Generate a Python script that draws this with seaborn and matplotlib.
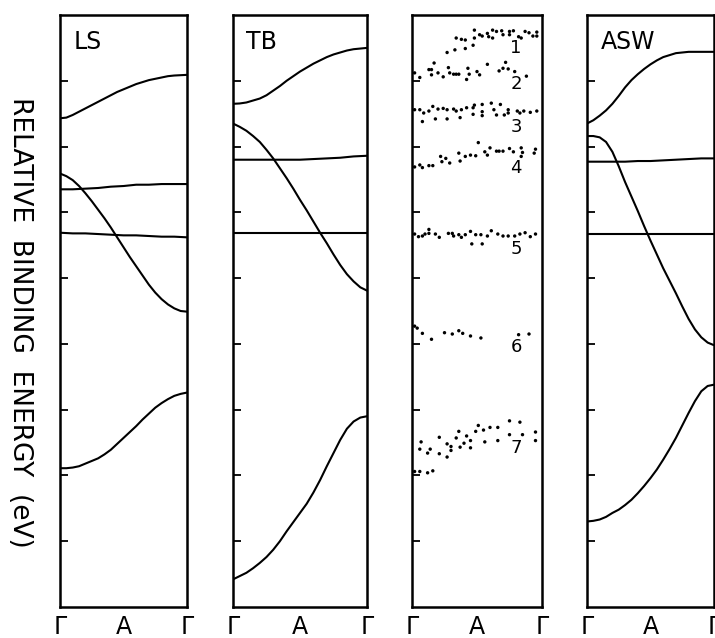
import matplotlib.pyplot as plt
import pandas as pd
import seaborn as sns

# k along Gamma - A - Gamma, energies in eV (binding energy, downwards)
k_fine = [0.0, 0.05, 0.1, 0.15, 0.2, 0.25, 0.3, 0.35, 0.4, 0.45, 0.5,
          0.55, 0.6, 0.65, 0.7, 0.75, 0.8, 0.85, 0.9, 0.95, 1.0]
k_flat = [0.0, 0.1, 0.2, 0.3, 0.4, 0.5, 0.6, 0.7, 0.8, 0.9, 1.0]

ls_1 = [1.57, 1.56, 1.52, 1.47, 1.42, 1.37, 1.32, 1.27, 1.22, 1.17, 1.13,
        1.09, 1.05, 1.02, 0.99, 0.97, 0.95, 0.93, 0.92, 0.915, 0.91]
ls_2 = [2.41, 2.45, 2.51, 2.60, 2.71, 2.83, 2.96, 3.09, 3.23, 3.38, 3.53,
        3.68, 3.82, 3.96, 4.10, 4.22, 4.32, 4.40, 4.46, 4.50, 4.51]
ls_3 = [2.65, 2.65, 2.64, 2.63, 2.61, 2.60, 2.58, 2.58, 2.57, 2.57, 2.57]
ls_4 = [3.31, 3.32, 3.32, 3.33, 3.34, 3.35, 3.35, 3.36, 3.37, 3.37, 3.38]
ls_5 = [6.89, 6.89, 6.88, 6.86, 6.82, 6.78, 6.74, 6.68, 6.61, 6.52, 6.43,
        6.34, 6.25, 6.15, 6.06, 5.97, 5.90, 5.84, 5.79, 5.76, 5.74]

tb_1 = [1.35, 1.345, 1.33, 1.30, 1.27, 1.22, 1.15, 1.08, 1.00, 0.93, 0.86,
        0.80, 0.74, 0.69, 0.64, 0.60, 0.57, 0.54, 0.52, 0.51, 0.50]
tb_2 = [1.65, 1.70, 1.76, 1.84, 1.93, 2.05, 2.18, 2.33, 2.48, 2.64, 2.81,
        2.97, 3.14, 3.31, 3.47, 3.64, 3.80, 3.94, 4.05, 4.14, 4.19]
tb_3 = [2.20, 2.20, 2.20, 2.20, 2.20, 2.20, 2.19, 2.18, 2.17, 2.15, 2.14]
tb_4 = [3.32, 3.32, 3.32, 3.32, 3.32, 3.32, 3.32, 3.32, 3.32, 3.32, 3.32]
tb_5 = [8.58, 8.53, 8.48, 8.41, 8.33, 8.24, 8.13, 8.00, 7.85, 7.71, 7.57,
        7.43, 7.26, 7.07, 6.86, 6.66, 6.46, 6.29, 6.18, 6.12, 6.10]

asw_1 = [1.65, 1.60, 1.53, 1.45, 1.35, 1.23, 1.10, 0.99, 0.90, 0.82, 0.75,
         0.69, 0.64, 0.61, 0.58, 0.57, 0.56, 0.56, 0.56, 0.56, 0.56]
asw_2 = [1.84, 1.84, 1.86, 1.93, 2.08, 2.30, 2.54, 2.76, 2.98, 3.21, 3.43,
         3.64, 3.85, 4.04, 4.23, 4.43, 4.62, 4.78, 4.90, 4.98, 5.02]
asw_3 = [2.23, 2.23, 2.23, 2.23, 2.22, 2.22, 2.21, 2.20, 2.19, 2.18, 2.18]
asw_4 = [3.33, 3.33, 3.33, 3.33, 3.33, 3.33, 3.33, 3.33, 3.33, 3.33, 3.33]
asw_5 = [7.70, 7.69, 7.67, 7.63, 7.57, 7.52, 7.45, 7.37, 7.27, 7.16, 7.04,
         6.91, 6.76, 6.60, 6.43, 6.24, 6.05, 5.87, 5.72, 5.64, 5.62]

# measured peaks (k, E)
peak_1 = [(0.48, 0.23), (0.62, 0.23), (0.65, 0.25), (0.69, 0.24), (0.70, 0.30), (0.75, 0.25),
          (0.78, 0.24), (0.75, 0.30), (0.87, 0.25), (0.90, 0.27), (0.96, 0.26), (0.96, 0.32),
          (0.93, 0.32), (0.82, 0.33), (0.84, 0.35), (0.58, 0.28), (0.54, 0.32), (0.59, 0.33),
          (0.62, 0.35), (0.48, 0.35), (0.52, 0.30), (0.47, 0.46), (0.41, 0.51), (0.38, 0.37),
          (0.41, 0.38), (0.34, 0.35), (0.33, 0.53), (0.27, 0.57)]
peak_2 = [(0.02, 0.88), (0.06, 0.95), (0.13, 0.83), (0.15, 0.83), (0.17, 0.73), (0.15, 0.91),
          (0.20, 0.88), (0.24, 0.94), (0.28, 0.80), (0.29, 0.88), (0.32, 0.90), (0.34, 0.90),
          (0.36, 0.90), (0.43, 0.81), (0.44, 0.90), (0.42, 0.98), (0.50, 0.86), (0.52, 0.91),
          (0.58, 0.75), (0.67, 0.85), (0.70, 0.81), (0.72, 0.72), (0.74, 0.82), (0.79, 0.86),
          (0.88, 0.93)]
peak_3 = [(0.02, 1.44), (0.06, 1.44), (0.09, 1.49), (0.08, 1.62), (0.13, 1.46), (0.16, 1.39),
          (0.20, 1.43), (0.18, 1.58), (0.24, 1.42), (0.27, 1.44), (0.27, 1.58), (0.32, 1.43),
          (0.34, 1.46), (0.38, 1.44), (0.37, 1.56), (0.42, 1.41), (0.47, 1.41), (0.47, 1.51),
          (0.48, 1.37), (0.54, 1.36), (0.54, 1.47), (0.54, 1.53), (0.61, 1.34), (0.63, 1.44),
          (0.65, 1.52), (0.68, 1.36), (0.71, 1.52), (0.74, 1.44), (0.74, 1.49), (0.81, 1.46),
          (0.83, 1.49), (0.86, 1.46), (0.91, 1.48), (0.96, 1.46)]
peak_4 = [(0.02, 2.31), (0.06, 2.28), (0.08, 2.32), (0.13, 2.29), (0.16, 2.29), (0.22, 2.15),
          (0.23, 2.23), (0.26, 2.18), (0.29, 2.25), (0.36, 2.10), (0.37, 2.22), (0.41, 2.15),
          (0.45, 2.13), (0.49, 2.14), (0.51, 1.94), (0.56, 2.08), (0.58, 2.13), (0.60, 2.02),
          (0.65, 2.07), (0.67, 2.07), (0.70, 2.07), (0.75, 2.03), (0.78, 2.08), (0.84, 2.02),
          (0.85, 2.09), (0.84, 2.15), (0.94, 2.10), (0.95, 2.04)]
peak_5 = [(0.02, 3.33), (0.05, 3.37), (0.08, 3.36), (0.10, 3.33), (0.13, 3.26), (0.13, 3.32),
          (0.18, 3.33), (0.21, 3.38), (0.28, 3.32), (0.31, 3.32), (0.32, 3.36), (0.36, 3.34),
          (0.38, 3.38), (0.41, 3.34), (0.45, 3.29), (0.46, 3.48), (0.49, 3.34), (0.53, 3.34),
          (0.54, 3.48), (0.58, 3.36), (0.61, 3.28), (0.66, 3.33), (0.70, 3.36), (0.74, 3.36),
          (0.79, 3.36), (0.83, 3.33), (0.87, 3.31), (0.91, 3.37), (0.95, 3.33)]
peak_6 = [(0.02, 4.73), (0.04, 4.76), (0.08, 4.84), (0.15, 4.93), (0.25, 4.83), (0.31, 4.85),
          (0.36, 4.80), (0.39, 4.84), (0.45, 4.88), (0.53, 4.91), (0.82, 4.86), (0.90, 4.85)]
peak_7 = [(0.02, 6.94), (0.06, 6.94), (0.12, 6.96), (0.16, 6.93), (0.07, 6.49), (0.06, 6.60),
          (0.12, 6.66), (0.14, 6.60), (0.21, 6.42), (0.21, 6.67), (0.27, 6.52), (0.27, 6.72),
          (0.30, 6.56), (0.30, 6.62), (0.34, 6.43), (0.36, 6.33), (0.37, 6.57), (0.40, 6.51),
          (0.42, 6.40), (0.45, 6.47), (0.45, 6.58), (0.49, 6.33), (0.51, 6.24), (0.55, 6.31),
          (0.56, 6.49), (0.60, 6.27), (0.66, 6.27), (0.66, 6.47), (0.75, 6.17), (0.75, 6.38),
          (0.83, 6.19), (0.85, 6.38), (0.95, 6.34), (0.95, 6.47)]

peak_names = ['1', '2', '3', '4', '5', '6', '7']
peak_label_E = [0.50, 1.05, 1.70, 2.33, 3.56, 5.05, 6.58]
k_labels = ['Γ', 'A', 'Γ']

bands = {'LS': [ls_1, ls_2, ls_3, ls_4, ls_5],
         'TB': [tb_1, tb_2, tb_3, tb_4, tb_5],
         'ASW': [asw_1, asw_2, asw_3, asw_4, asw_5]}
peaks = [peak_1, peak_2, peak_3, peak_4, peak_5, peak_6, peak_7]

rows = []
for name, bl in bands.items():
    for i, b in enumerate(bl):
        kk = k_fine if len(b) == len(k_fine) else k_flat
        for k, e in zip(kk, b):
            rows.append({'model': name, 'band': i, 'k': k, 'E': e})
df = pd.DataFrame(rows)

prow = []
for i, p in enumerate(peaks):
    for k, e in p:
        prow.append({'peak': peak_names[i], 'k': k, 'E': e})
exp = pd.DataFrame(prow)

sns.set_style('ticks', {'axes.edgecolor': 'black', 'xtick.color': 'black',
                        'ytick.color': 'black', 'text.color': 'black'})
plt.rcParams['font.family'] = ['DejaVu Sans']

W, H = 715, 638
fig = plt.figure(figsize=(W / 100, H / 100), dpi=100)
lefts = [60, 233, 412, 587]
widths = [127, 134, 130, 127]
order = ['LS', 'TB', 'exp', 'ASW']
title_x = [0.11, 0.10, 0, 0.11]

for j, (l, w) in enumerate(zip(lefts, widths)):
    ax = fig.add_axes([l / W, 31 / H, w / W, 592 / H])
    name = order[j]
    if name == 'exp':
        sns.scatterplot(data=exp, x='k', y='E', ax=ax, color='black', s=6,
                        edgecolor='none', legend=False)
        for lab, ey in zip(peak_names, peak_label_E):
            ax.text(0.80, ey, lab, fontsize=13, ha='center', va='center')
    else:
        sns.lineplot(data=df[df['model'] == name], x='k', y='E', units='band',
                     estimator=None, ax=ax, color='black', lw=1.5)
        ax.text(title_x[j], 0.975, name, transform=ax.transAxes, fontsize=17,
                ha='left', va='top')
    ax.set_xlim(0, 1)
    ax.set_ylim(9, 0)
    ax.set_yticks(range(1, 9))
    ax.set_yticklabels([])
    ax.set_xticks([0, 0.5, 1])
    ax.set_xticklabels(k_labels, fontsize=17)
    ax.tick_params(axis='y', direction='in', length=6, width=1.3)
    ax.tick_params(axis='x', length=0, pad=6)
    ax.set_xlabel('')
    ax.set_ylabel('')
    for s in ax.spines.values():
        s.set_linewidth(1.8)

fig.text(20 / W, 0.494, 'RELATIVE  BINDING  ENERGY  (eV)', rotation=270,
         ha='center', va='center', fontsize=19)

fig.savefig('out.png', dpi=100)
